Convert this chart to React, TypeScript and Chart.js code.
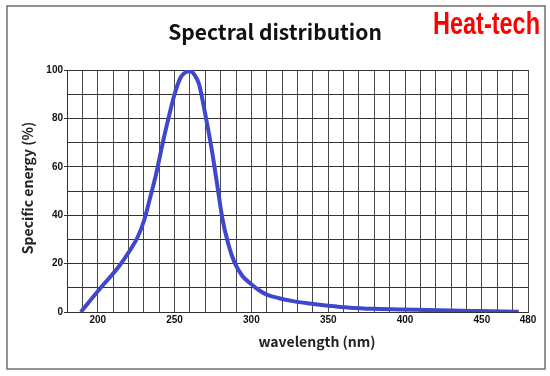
import React, { useEffect, useRef } from "react";
import { Chart, registerables } from "chart.js";

Chart.register(...registerables);

const wavelengths = [189, 201, 214, 221, 226, 230, 234, 238, 242, 246, 250, 254, 257, 260, 263, 266, 269, 272, 275, 278, 281, 285, 289, 294, 299, 305, 310, 318, 327, 338, 350, 364, 380, 397, 415, 430, 450, 465, 474];
const energy = [0, 9.3, 19, 25.5, 31, 37.5, 47, 57, 69, 80, 90, 97, 99, 99.5, 98, 94, 85, 75, 64, 51.5, 39, 28, 20.5, 15, 12, 9, 7.2, 5.7, 4.5, 3.5, 2.6, 1.8, 1.3, 1.0, 0.8, 0.6, 0.4, 0.25, 0.1];
const xLabelValues = [200, 250, 300, 350, 400, 450, 480];
const yLabelValues = [0, 20, 40, 60, 80, 100];

const titleText = "Spectral distribution";
const logoText = "Heat-tech";
const yTitle = "Specific energy (%)";
const xTitle = "wavelength (nm)";

const decorPlugin = {
  id: "decor",
  beforeDraw(chart: any) {
    const ctx = chart.ctx;
    ctx.save();
    ctx.fillStyle = "#ffffff";
    ctx.fillRect(0, 0, chart.width, chart.height);
    ctx.strokeStyle = "#707070";
    ctx.lineWidth = 1.5;
    ctx.strokeRect(7, 6, 538, 363);
    ctx.restore();
  },
  afterDraw(chart: any) {
    const ctx = chart.ctx;
    ctx.save();
    // title
    ctx.fillStyle = "#111";
    ctx.font = "bold 21px 'Noto Sans CJK JP'";
    ctx.textAlign = "center";
    ctx.textBaseline = "middle";
    ctx.fillText(titleText, 275, 32);
    // logo
    ctx.font = "bold 32px 'Liberation Sans'";
    const w = ctx.measureText(logoText).width;
    const targetW = 107;
    ctx.translate(433, 25);
    ctx.scale(targetW / w, 1);
    ctx.fillStyle = "#ff0000";
    ctx.textAlign = "left";
    ctx.textBaseline = "middle";
    ctx.fillText(logoText, 0, 0);
    ctx.restore();

    ctx.save();
    ctx.fillStyle = "#222";
    ctx.font = "bold 14px 'Noto Sans CJK JP'";
    ctx.textAlign = "center";
    ctx.textBaseline = "middle";
    ctx.fillText(xTitle, 317, 342);
    ctx.translate(28, 188);
    ctx.rotate(-Math.PI / 2);
    ctx.fillText(yTitle, 0, 0);
    ctx.restore();
  },
};

export default function App() {
  const ref = useRef<HTMLCanvasElement>(null);
  useEffect(() => {
    if (!ref.current) return;
    const chart = new Chart(ref.current, {
      type: "line",
      data: {
        datasets: [
          {
            data: wavelengths.map((x, i) => ({ x, y: energy[i] })),
            borderColor: "#3f48cc",
            borderWidth: 4,
            pointRadius: 0,
            fill: false,
            cubicInterpolationMode: "monotone",
          },
        ],
      },
      options: {
        responsive: false,
        animation: false,
        events: [],
        layout: { padding: { left: 0, top: 70, right: 22, bottom: 0 } },
        plugins: { legend: { display: false }, tooltip: { enabled: false }, title: { display: false } },
        scales: {
          x: {
            type: "linear",
            min: 180,
            max: 480,
            afterFit(scale: any) {
              scale.height = 64;
            },
            border: { color: "#333", width: 1 },
            grid: { color: "#4a4a4a", lineWidth: 1, drawTicks: false },
            ticks: {
              stepSize: 10,
              autoSkip: false,
              maxRotation: 0,
              padding: 2,
              color: "#111",
              font: { family: "'Liberation Sans'", size: 10, weight: "bold" },
              callback: (v: any) => (xLabelValues.includes(Number(v)) ? String(v) : ""),
            },
          },
          y: {
            min: 0,
            max: 100,
            afterFit(scale: any) {
              scale.width = 67;
            },
            border: { color: "#333", width: 1 },
            grid: {
              color: "#333",
              lineWidth: 1,
              drawTicks: true,
              tickLength: 3,
              tickColor: (c: any) => (yLabelValues.includes(c.tick?.value) ? "#333" : "rgba(0,0,0,0)"),
            },
            ticks: {
              stepSize: 10,
              autoSkip: false,
              padding: 1,
              color: "#111",
              font: { family: "'Liberation Sans'", size: 10, weight: "bold" },
              callback: (v: any) => (yLabelValues.includes(Number(v)) ? String(v) : ""),
            },
          },
        },
      },
      plugins: [decorPlugin],
    } as any);
    return () => chart.destroy();
  }, []);
  return (
    <div style={{ position: "fixed", left: 0, top: 0, width: 550, height: 376 }}>
      <canvas ref={ref} width={550} height={376} style={{ display: "block", width: 550, height: 376 }} />
    </div>
  );
}
